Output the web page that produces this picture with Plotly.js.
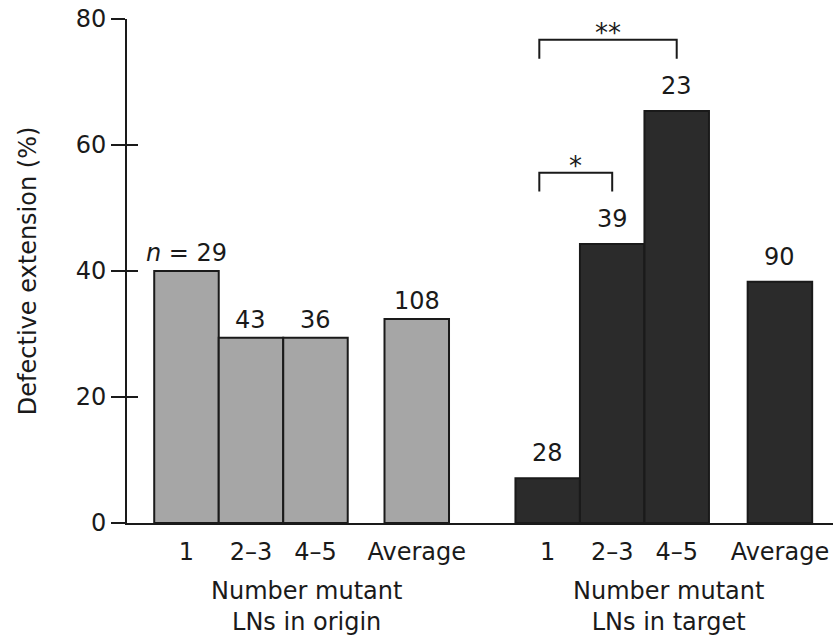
<!DOCTYPE html>
<html><head><meta charset="utf-8">
<script src="https://cdn.plot.ly/plotly-3.0.1.min.js"></script>
<style>html,body{margin:0;padding:0;background:#fff}#chart{width:833px;height:642px}</style>
</head><body><div id="chart"></div>
<script>
// ---- data ----
const categories = ['1', '2–3', '4–5', 'Average'];
const originValues = [40, 29.4, 29.4, 32.4];
const targetValues = [7.1, 44.3, 65.4, 38.3];
const originN = ['<i>n</i> = 29', '43', '36', '108'];
const targetN = ['28', '39', '23', '90'];
const groupTitles = ['Number mutant<br>LNs in origin', 'Number mutant<br>LNs in target'];
const yTicks = [0, 20, 40, 60, 80];
const yTitle = 'Defective extension (%)';
const compLeft = ['1', '1'];
const compRight = ['2–3', '4–5'];
const compLabel = ['*', '**'];

// ---- layout helpers (positions / styles) ----
const originPos = [0, 1, 2, 3.57];
const targetPos = [5.6, 6.6, 7.6, 9.2];
const FONT = 'DejaVu Sans';
const TXT = '#1a1a1a';
const LINE = '#1a1a1a';

const traces = [
  {type: 'bar', x: originPos, y: originValues, width: 1,
   marker: {color: '#a6a6a6', line: {color: LINE, width: 2}}, hoverinfo: 'skip', showlegend: false},
  {type: 'bar', x: targetPos, y: targetValues, width: 1,
   marker: {color: '#2b2b2b', line: {color: LINE, width: 2}}, hoverinfo: 'skip', showlegend: false},
  {type: 'scatter', x: [], y: [], yaxis: 'y2', hoverinfo: 'skip', showlegend: false}
];

const annotations = [];
originPos.forEach((p, i) => annotations.push({x: p, y: originValues[i], text: originN[i], showarrow: false,
  yanchor: 'bottom', yshift: 2, font: {family: FONT, size: 24, color: TXT}}));
targetPos.forEach((p, i) => annotations.push({x: p, y: targetValues[i], text: targetN[i], showarrow: false,
  yanchor: 'bottom', yshift: 9, font: {family: FONT, size: 24, color: TXT}}));

function spanCenter(pos) { return (pos[0] - 0.5 + pos[pos.length - 1] + 0.5) / 2; }
[originPos, targetPos].forEach((pos, g) => annotations.push({
  x: spanCenter(pos) + 0.08, xref: 'x', y: -0.165, yref: 'paper', yanchor: 'middle', text: groupTitles[g],
  showarrow: false, font: {family: FONT, size: 24, color: TXT}}));

annotations.push({x: -0.14, xref: 'paper', y: 0.5, yref: 'paper', xanchor: 'center', yanchor: 'middle',
  textangle: -90, text: yTitle, showarrow: false, font: {family: FONT, size: 24, color: TXT}});

const shapes = [];
compLeft.forEach((l, k) => {
  const i0 = categories.indexOf(l), i1 = categories.indexOf(compRight[k]);
  const x0 = targetPos[i0] - 0.13, x1 = targetPos[i1];
  const level = Math.max(...targetValues.slice(i0, i1 + 1)) + 11.3;
  const drop = 3;
  shapes.push({type: 'path', xref: 'x', yref: 'y',
    path: `M${x0},${level - drop} L${x0},${level} L${x1},${level} L${x1},${level - drop}`,
    line: {color: LINE, width: 2}});
  annotations.push({x: (x0 + x1) / 2, y: level, text: compLabel[k], showarrow: false,
    yanchor: 'bottom', yshift: -10, font: {family: FONT, size: 26, color: TXT}});
});

const layout = {
  width: 833, height: 642,
  margin: {l: 127, r: 0, t: 19, b: 119, pad: 0},
  paper_bgcolor: '#fff', plot_bgcolor: '#fff',
  showlegend: false, bargap: 0,
  xaxis: {range: [-0.922, 10.023], showgrid: false, zeroline: false, showline: true,
    linecolor: LINE, linewidth: 2, ticks: '', tickvals: originPos.concat(targetPos),
    ticktext: categories.concat(categories), ticklabelstandoff: 6,
    tickfont: {family: FONT, size: 24, color: TXT}, fixedrange: true},
  yaxis: {range: [0, 80], tickvals: yTicks, ticks: 'outside', ticklen: 14, tickwidth: 2, tickcolor: LINE,
    showline: true, linecolor: LINE, linewidth: 2, showgrid: false, zeroline: false,
    tickfont: {family: FONT, size: 24, color: TXT}, fixedrange: true},
  yaxis2: {range: [0, 80], overlaying: 'y', side: 'left', tickvals: yTicks, ticks: 'inside', ticklen: 11,
    tickwidth: 2, tickcolor: LINE, showticklabels: false, showline: false, showgrid: false, zeroline: false,
    fixedrange: true},
  annotations: annotations,
  shapes: shapes
};

Plotly.newPlot('chart', traces, layout, {displayModeBar: false, staticPlot: true});
</script>
</body></html>
